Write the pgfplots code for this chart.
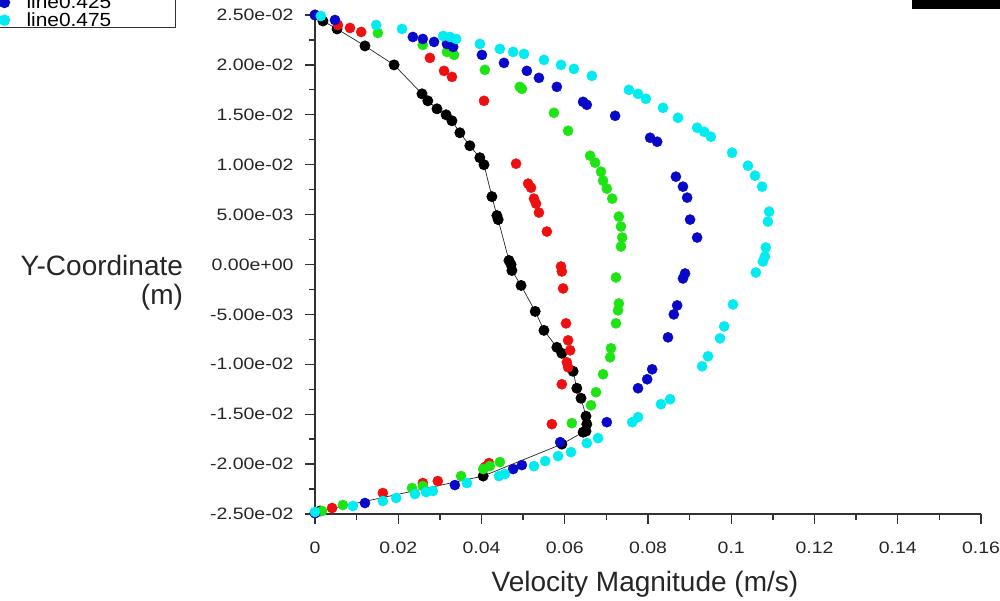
\documentclass[border=0pt]{standalone}
\usepackage{pgfplots}
\pgfplotsset{compat=1.18}
\usepackage{fontspec}
\setmainfont{Liberation Sans}
\newfontfamily\tickfont[FakeStretch=1.18]{Liberation Sans}
\newfontfamily\legfont[FakeStretch=1.1]{Liberation Sans}
\definecolor{cBlack}{RGB}{0,0,0}
\definecolor{cRed}{RGB}{238,16,16}
\definecolor{cGreen}{RGB}{30,228,20}
\definecolor{cBlue}{RGB}{8,8,200}
\definecolor{cCyan}{RGB}{0,236,240}
\definecolor{axgray}{RGB}{50,50,50}
\begin{document}
\begin{tikzpicture}
\path[use as bounding box, clip] (0pt,0pt) rectangle (1000pt,601pt);
\fill[black] (912pt,592pt) rectangle (1000pt,601pt);
\begin{axis}[
  at={(315pt,87pt)}, anchor=south west,
  scale only axis, width=666pt, height=499pt,
  xmin=0, xmax=0.16, ymin=-0.025, ymax=0.025,
  clip=false,
  axis x line=bottom, axis y line=left,
  axis line style={-, line width=1.3pt, draw=axgray},
  xtick={0,0.02,0.04,0.06,0.08,0.1,0.12,0.14,0.16},
  xticklabels={0,0.02,0.04,0.06,0.08,0.1,0.12,0.14,0.16},
  ytick={-0.025,-0.02,-0.015,-0.01,-0.005,0,0.005,0.01,0.015,0.02,0.025},
  yticklabels={-2.50e-02,-2.00e-02,-1.50e-02,-1.00e-02,-5.00e-03,0.00e+00,5.00e-03,1.00e-02,1.50e-02,2.00e-02,2.50e-02},
  minor x tick num=1, minor y tick num=1,
  tick align=outside,
  major tick length=10pt, minor tick length=6pt,
  every tick/.style={line width=1.3pt, axgray},
  ticklabel style={font=\tickfont\fontsize{16.5}{18}\selectfont, text=black!85},
  yticklabel style={xshift=-8pt},
  xticklabel style={yshift=-14pt},
  xlabel={Velocity Magnitude (m/s)},
  xlabel style={at={(axis description cs:0.4955,-0.14)}, anchor=center, font=\fontsize{28}{30}\selectfont, text=black!85},
  ylabel={Y-Coordinate\\(m)},
  ylabel style={rotate=-90, align=right, anchor=east, inner sep=0pt, at={(axis description cs:-0.198,0.463)}, font=\fontsize{28}{29}\selectfont, text=black!85},
  legend image code/.code={\draw[#1] plot coordinates {(0pt,-1pt)};},
  legend cell align=left,
  legend style={at={(axis description cs:-0.2087,0.974)}, anchor=south east,
    draw=axgray, line width=1.3pt, fill=white,
    font=\legfont\fontsize{19}{19}\selectfont,
    inner xsep=63pt, inner ysep=1.2pt, row sep=4pt, column sep=16pt,
    nodes={inner sep=1pt, inner ysep=0pt, text depth=0pt}},
]
% black
\addplot[forget plot, color=black!85, line width=0.7pt, mark=*, mark size=5.1pt, mark options={draw=cBlack, fill=cBlack}] coordinates {
(0,0.0250) (0.0019,0.0244) (0.0053,0.0236) (0.0120,0.0219) (0.0190,0.0200)
(0.0257,0.0171) (0.0271,0.0164) (0.0293,0.0156) (0.0315,0.0150) (0.0329,0.0144)
(0.0348,0.0132) (0.0372,0.0119) (0.0396,0.0107) (0.0406,0.0100) (0.0425,0.0068)
(0.0437,0.0049) (0.0440,0.0045) (0.0466,0.0004) (0.0471,0.0000) (0.0473,-0.0006)
(0.0495,-0.0021) (0.0529,-0.0047) (0.0550,-0.0066) (0.0581,-0.0083) (0.0593,-0.0089)
(0.0620,-0.0107) (0.0629,-0.0124) (0.0639,-0.0134) (0.0651,-0.0152) (0.0653,-0.0160)
(0.0651,-0.0167) (0.0644,-0.0168) (0.0593,-0.0180) (0.0404,-0.0212) (0.0012,-0.0247)
(0,-0.0249)
};
% red
\addplot[forget plot, only marks, mark=*, mark size=5.1pt, mark options={draw=cRed, fill=cRed}] coordinates {
(0.0055,0.0240) (0.0084,0.0237) (0.0111,0.0233) (0.0276,0.0207) (0.0310,0.0194)
(0.0329,0.0188) (0.0406,0.0164) (0.0483,0.0101) (0.0512,0.0081) (0.0519,0.0077)
(0.0526,0.0066) (0.0531,0.0061) (0.0538,0.0052) (0.0557,0.0033) (0.0591,-0.0002)
(0.0593,-0.0007) (0.0596,-0.0024) (0.0603,-0.0059) (0.0608,-0.0076) (0.0613,-0.0086)
(0.0605,-0.0098) (0.0608,-0.0103) (0.0593,-0.0120) (0.0569,-0.0160) (0.0418,-0.0199)
(0.0408,-0.0203) (0.0295,-0.0217) (0.0259,-0.0219) (0.0163,-0.0229) (0.0041,-0.0244)
};
% green
\addplot[forget plot, only marks, mark=*, mark size=5.1pt, mark options={draw=cGreen, fill=cGreen}] coordinates {
(0.0151,0.0232) (0.0259,0.0220) (0.0317,0.0213) (0.0334,0.0210) (0.0408,0.0195)
(0.0492,0.0178) (0.0497,0.0176) (0.0574,0.0152) (0.0608,0.0134) (0.0661,0.0109)
(0.0673,0.0102) (0.0687,0.0093) (0.0692,0.0084) (0.0701,0.0076) (0.0714,0.0066)
(0.0730,0.0048) (0.0735,0.0038) (0.0738,0.0027) (0.0735,0.0018) (0.0723,-0.0013)
(0.0730,-0.0039) (0.0728,-0.0046) (0.0723,-0.0059) (0.0711,-0.0084) (0.0709,-0.0093)
(0.0692,-0.0110) (0.0675,-0.0128) (0.0663,-0.0141) (0.0617,-0.0159) (0.0444,-0.0198)
(0.0420,-0.0202) (0.0404,-0.0205) (0.0351,-0.0212) (0.0259,-0.0222) (0.0233,-0.0224)
(0.0067,-0.0241) (0.0017,-0.0247)
};
% blue
\addplot[only marks, mark=*, mark size=5.1pt, mark options={draw=cBlue, fill=cBlue}] coordinates {
(0,0.0250) (0.0048,0.0245) (0.0235,0.0228) (0.0259,0.0226) (0.0286,0.0223)
(0.0317,0.0221) (0.0332,0.0218) (0.0401,0.0210) (0.0454,0.0202) (0.0509,0.0194)
(0.0538,0.0187) (0.0581,0.0178) (0.0644,0.0163) (0.0653,0.0160) (0.0721,0.0149)
(0.0805,0.0127) (0.0822,0.0123) (0.0867,0.0088) (0.0884,0.0078) (0.0894,0.0067)
(0.0901,0.0045) (0.0918,0.0027) (0.0889,-0.0009) (0.0884,-0.0014) (0.0870,-0.0041)
(0.0862,-0.0050) (0.0848,-0.0073) (0.0810,-0.0105) (0.0798,-0.0115) (0.0776,-0.0124)
(0.0701,-0.0158) (0.0589,-0.0178) (0.0497,-0.0201) (0.0476,-0.0205) (0.0336,-0.0221)
(0.0120,-0.0239) (0,-0.0249)
};
\addlegendentry{line0.425}
% cyan
\addplot[only marks, mark=*, mark size=5.1pt, mark options={draw=cCyan, fill=cCyan}] coordinates {
(0.0014,0.0249) (0.0147,0.0240) (0.0209,0.0236) (0.0308,0.0229) (0.0324,0.0228)
(0.0339,0.0226) (0.0396,0.0221) (0.0444,0.0216) (0.0476,0.0213) (0.0502,0.0211)
(0.0550,0.0205) (0.0591,0.0200) (0.0622,0.0196) (0.0665,0.0189) (0.0754,0.0175)
(0.0776,0.0171) (0.0795,0.0166) (0.0836,0.0157) (0.0872,0.0147) (0.0918,0.0137)
(0.0935,0.0133) (0.0951,0.0128) (0.1002,0.0112) (0.1040,0.0099) (0.1057,0.0089)
(0.1074,0.0078) (0.1091,0.0053) (0.1088,0.0043) (0.1083,0.0017) (0.1081,0.0008)
(0.1076,0.0003) (0.1059,-0.0008) (0.1004,-0.0040) (0.0983,-0.0062) (0.0973,-0.0074)
(0.0944,-0.0092) (0.0930,-0.0102) (0.0853,-0.0135) (0.0831,-0.0140) (0.0776,-0.0153)
(0.0762,-0.0158) (0.0680,-0.0174) (0.0653,-0.0179) (0.0615,-0.0188) (0.0584,-0.0192)
(0.0553,-0.0197) (0.0526,-0.0202) (0.0456,-0.0210) (0.0442,-0.0212) (0.0365,-0.0219)
(0.0283,-0.0227) (0.0267,-0.0228) (0.0240,-0.0230) (0.0195,-0.0234) (0.0163,-0.0237)
(0.0091,-0.0242) (0,-0.0248)
};
\addlegendentry{line0.475}
\end{axis}
\end{tikzpicture}
\end{document}
